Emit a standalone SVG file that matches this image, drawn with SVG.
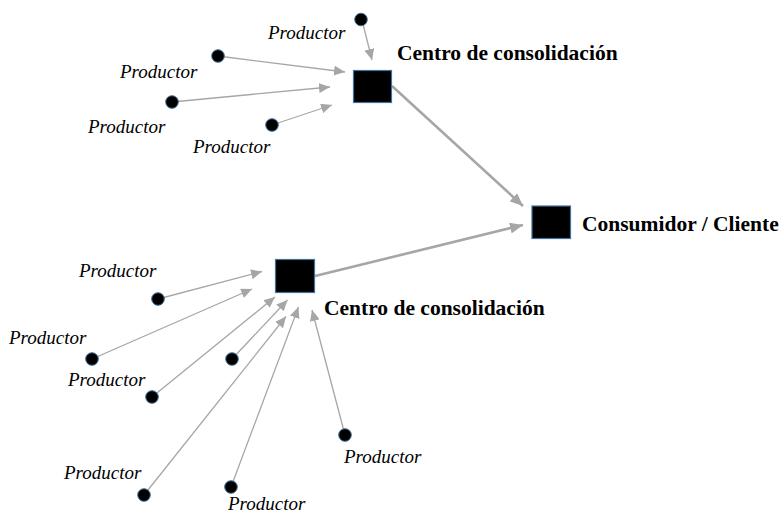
<svg xmlns="http://www.w3.org/2000/svg" width="780" height="518" viewBox="0 0 780 518">
<defs>
<marker id="ah" markerUnits="userSpaceOnUse" markerWidth="11" markerHeight="10" refX="11" refY="5" orient="auto">
<path d="M0,0 L11,5 L0,10 z" fill="#a6a6a6"/>
</marker>
<marker id="ahb" markerUnits="userSpaceOnUse" markerWidth="13" markerHeight="11" refX="13" refY="5.5" orient="auto">
<path d="M0,0 L13,5.5 L0,11 z" fill="#a6a6a6"/>
</marker>
</defs>
<style>
.thin{stroke:#a6a6a6;stroke-width:1.3;fill:none;marker-end:url(#ah)}
.thick{stroke:#a6a6a6;stroke-width:2.6;fill:none;marker-end:url(#ahb)}
.dot{fill:#000;stroke:#41719c;stroke-width:1}
.sq{fill:#000;stroke:#41719c;stroke-width:1.2}
.p{font-family:"Liberation Serif","Times New Roman",serif;font-style:italic;font-size:19px;fill:#000}
.b{font-family:"Liberation Serif","Times New Roman",serif;font-weight:bold;font-size:21.5px;fill:#000}
</style>
<rect width="780" height="518" fill="#fff"/>
<g id="connectors">
<line class="thin" x1="362" y1="20" x2="372" y2="60"/>
<line class="thin" x1="218" y1="56" x2="345" y2="72"/>
<line class="thin" x1="172" y1="102" x2="330" y2="87"/>
<line class="thin" x1="272" y1="125" x2="332" y2="105"/>
<line class="thin" x1="158" y1="299" x2="262" y2="271.5"/>
<line class="thin" x1="92" y1="359" x2="252" y2="289"/>
<line class="thin" x1="152" y1="397" x2="275" y2="297"/>
<line class="thin" x1="232" y1="359" x2="287.5" y2="300"/>
<line class="thin" x1="144" y1="495" x2="286" y2="316.5"/>
<line class="thin" x1="231" y1="487" x2="298.5" y2="307"/>
<line class="thin" x1="345" y1="435" x2="312" y2="310"/>
<line class="thick" x1="392" y1="86" x2="523" y2="206"/>
<line class="thick" x1="315" y1="276" x2="523" y2="225"/>
</g>
<g id="centro1"><rect class="sq" x="353.5" y="70.5" width="38" height="32"/><text class="b" x="397" y="60">Centro de consolidación</text></g>
<g id="centro2"><rect class="sq" x="275.5" y="259.5" width="39" height="33"/><text class="b" x="324" y="315">Centro de consolidación</text></g>
<g id="consumidor"><rect class="sq" x="532" y="206" width="38.5" height="32.5"/><text class="b" x="582" y="231">Consumidor / Cliente</text></g>
<g id="p1"><circle class="dot" cx="361" cy="19.5" r="6.3"/><text class="p" x="268" y="39">Productor</text></g>
<g id="p2"><circle class="dot" cx="218" cy="56" r="6.3"/><text class="p" x="120" y="78">Productor</text></g>
<g id="p3"><circle class="dot" cx="172" cy="102" r="6.3"/><text class="p" x="88" y="133">Productor</text></g>
<g id="p4"><circle class="dot" cx="272" cy="125" r="6.3"/><text class="p" x="193" y="153">Productor</text></g>
<g id="p5"><circle class="dot" cx="158" cy="299" r="6.3"/><text class="p" x="79" y="277">Productor</text></g>
<g id="p6"><circle class="dot" cx="92" cy="359" r="6.3"/><text class="p" x="9" y="344">Productor</text></g>
<g id="p7"><circle class="dot" cx="152" cy="397" r="6.3"/><text class="p" x="68" y="386">Productor</text></g>
<g id="p8"><circle class="dot" cx="232" cy="359" r="6.3"/></g>
<g id="p9"><circle class="dot" cx="144" cy="495" r="6.3"/><text class="p" x="64" y="479">Productor</text></g>
<g id="p10"><circle class="dot" cx="231" cy="487" r="6.3"/><text class="p" x="228" y="510">Productor</text></g>
<g id="p11"><circle class="dot" cx="345" cy="435" r="6.3"/><text class="p" x="344" y="463">Productor</text></g>
</svg>
